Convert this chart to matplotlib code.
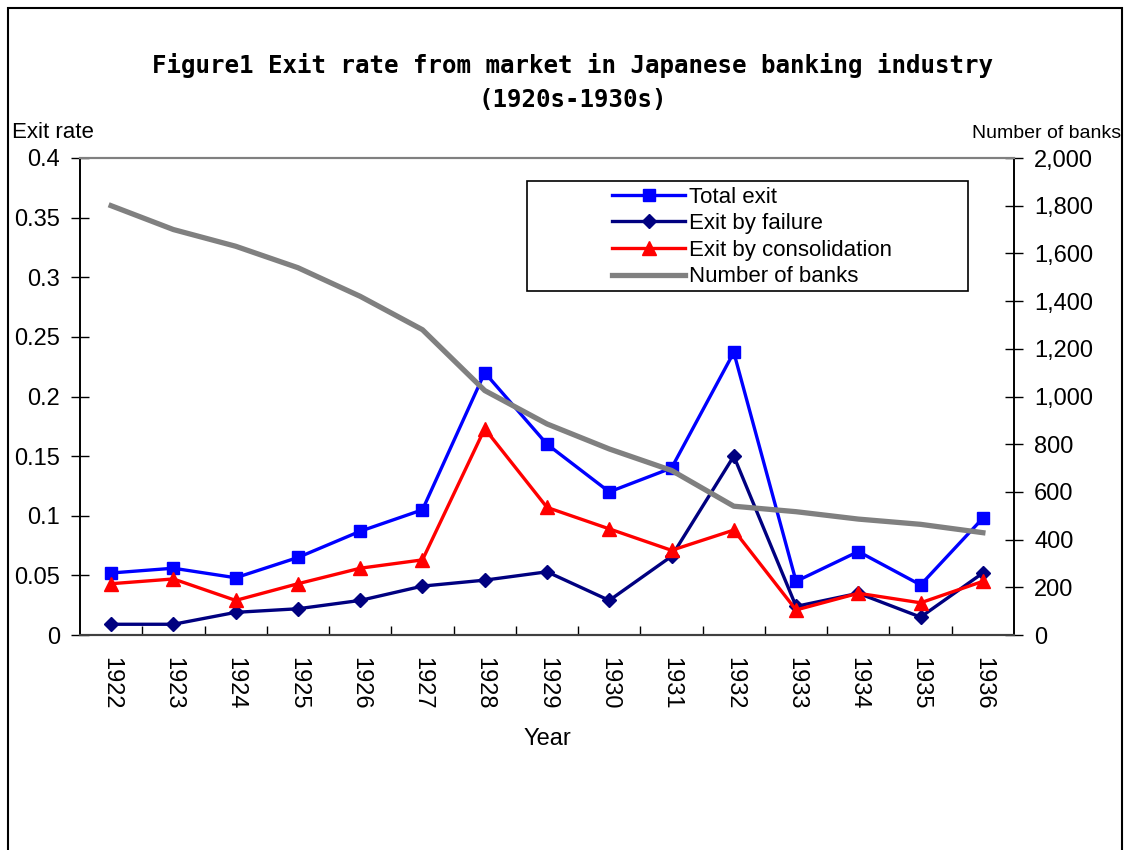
import matplotlib.pyplot as plt
import matplotlib.patches as patches
from matplotlib.ticker import FuncFormatter, FixedLocator

# data
years = ['1922', '1923', '1924', '1925', '1926', '1927', '1928', '1929',
         '1930', '1931', '1932', '1933', '1934', '1935', '1936']
total_exit = [0.052, 0.056, 0.048, 0.065, 0.087, 0.105, 0.220, 0.160,
              0.120, 0.140, 0.237, 0.045, 0.070, 0.042, 0.098]
exit_failure = [0.009, 0.009, 0.019, 0.022, 0.029, 0.041, 0.046, 0.053,
                0.029, 0.066, 0.150, 0.024, 0.035, 0.015, 0.052]
exit_consolidation = [0.043, 0.047, 0.029, 0.043, 0.056, 0.063, 0.173, 0.107,
                      0.089, 0.071, 0.088, 0.021, 0.035, 0.027, 0.045]
number_of_banks = [1800, 1700, 1630, 1540, 1420, 1280, 1025, 885,
                   780, 690, 540, 517, 486, 464, 429]

plt.rcParams['font.family'] = ['Liberation Sans', 'DejaVu Sans']

fig = plt.figure(figsize=(11.27, 8.5), dpi=100)
ax = fig.add_axes([80 / 1127, 1 - 635 / 850, 934 / 1127, 477 / 850])
ax2 = ax.twinx()

x = list(range(len(years)))

l1, = ax.plot(x, total_exit, color='#0000FF', lw=2.4, marker='s', ms=8.5,
              label='Total exit')
l2, = ax.plot(x, exit_failure, color='#000080', lw=2.4, marker='D', ms=7.5,
              label='Exit by failure')
l3, = ax.plot(x, exit_consolidation, color='#FF0000', lw=2.4, marker='^', ms=9.5,
              label='Exit by consolidation')
l4, = ax2.plot(x, number_of_banks, color='#808080', lw=3.8,
               label='Number of banks')

ax.set_xlim(-0.5, 14.5)
ax.set_ylim(0, 0.4)
ax2.set_ylim(0, 2000)

ax.set_yticks([i * 0.05 for i in range(9)])
ax.yaxis.set_major_formatter(FuncFormatter(lambda v, p: f'{v:g}' if v else '0'))
ax2.set_yticks(range(0, 2001, 200))
ax2.yaxis.set_major_formatter(FuncFormatter(lambda v, p: f'{int(v):,}'))

# category labels at points, tick marks between categories
ax.set_xticks(x)
ax.set_xticklabels(years, rotation=-90, fontsize=17)
ax.tick_params(axis='x', which='major', length=0, pad=16)
ax.xaxis.set_minor_locator(FixedLocator([i + 0.5 for i in range(len(years) - 1)]))
ax.tick_params(axis='x', which='minor', direction='in', length=6.5, width=1)

ax.tick_params(axis='y', direction='inout', length=13, width=1, labelsize=17, pad=8)
ax2.tick_params(axis='y', direction='inout', length=13, width=1, labelsize=17, pad=8)

for a in (ax, ax2):
    a.spines['top'].set_color('#808080')
    a.spines['top'].set_linewidth(1.5)
    a.spines['bottom'].set_color('#404040')
    a.spines['bottom'].set_linewidth(1.5)
    a.spines['left'].set_linewidth(1.2)
    a.spines['right'].set_linewidth(1.2)

ax.set_xlabel('Year', fontsize=17, labelpad=13)

fig.text(12 / 1127, 1 - 133 / 850, 'Exit rate', fontsize=16, ha='left', va='center')
fig.text(1121 / 1127, 1 - 133 / 850, 'Number of banks', fontsize=14,
         ha='right', va='center')

fig.text(573 / 1127, 1 - 65 / 850,
         'Figure1 Exit rate from market in Japanese banking industry',
         fontsize=17.4, fontweight='bold', family='DejaVu Sans Mono',
         ha='center', va='center')
fig.text(573 / 1127, 1 - 100 / 850, '(1920s-1930s)',
         fontsize=17.4, fontweight='bold', family='DejaVu Sans Mono',
         ha='center', va='center')

# legend frame + entries
box = patches.Rectangle((0.4786, 0.721), 0.4721, 0.231, transform=ax2.transAxes,
                        facecolor='white', edgecolor='black', lw=1.2, zorder=5)
ax2.add_patch(box)
leg = ax2.legend(handles=[l1, l2, l3, l4], loc='upper left',
                 bbox_to_anchor=(0.5696, 0.940), frameon=False, fontsize=16,
                 handlelength=3.3, handletextpad=0.15, labelspacing=0.25,
                 borderpad=0, borderaxespad=0)
leg.set_zorder(6)

# outer border of the chart
fig.add_artist(patches.Rectangle((8 / 1127, -0.02), 1114 / 1127, 1.02 - 8 / 850,
                                 transform=fig.transFigure, fill=False,
                                 edgecolor='black', lw=1.5))

fig.savefig('out.png', dpi=100)
